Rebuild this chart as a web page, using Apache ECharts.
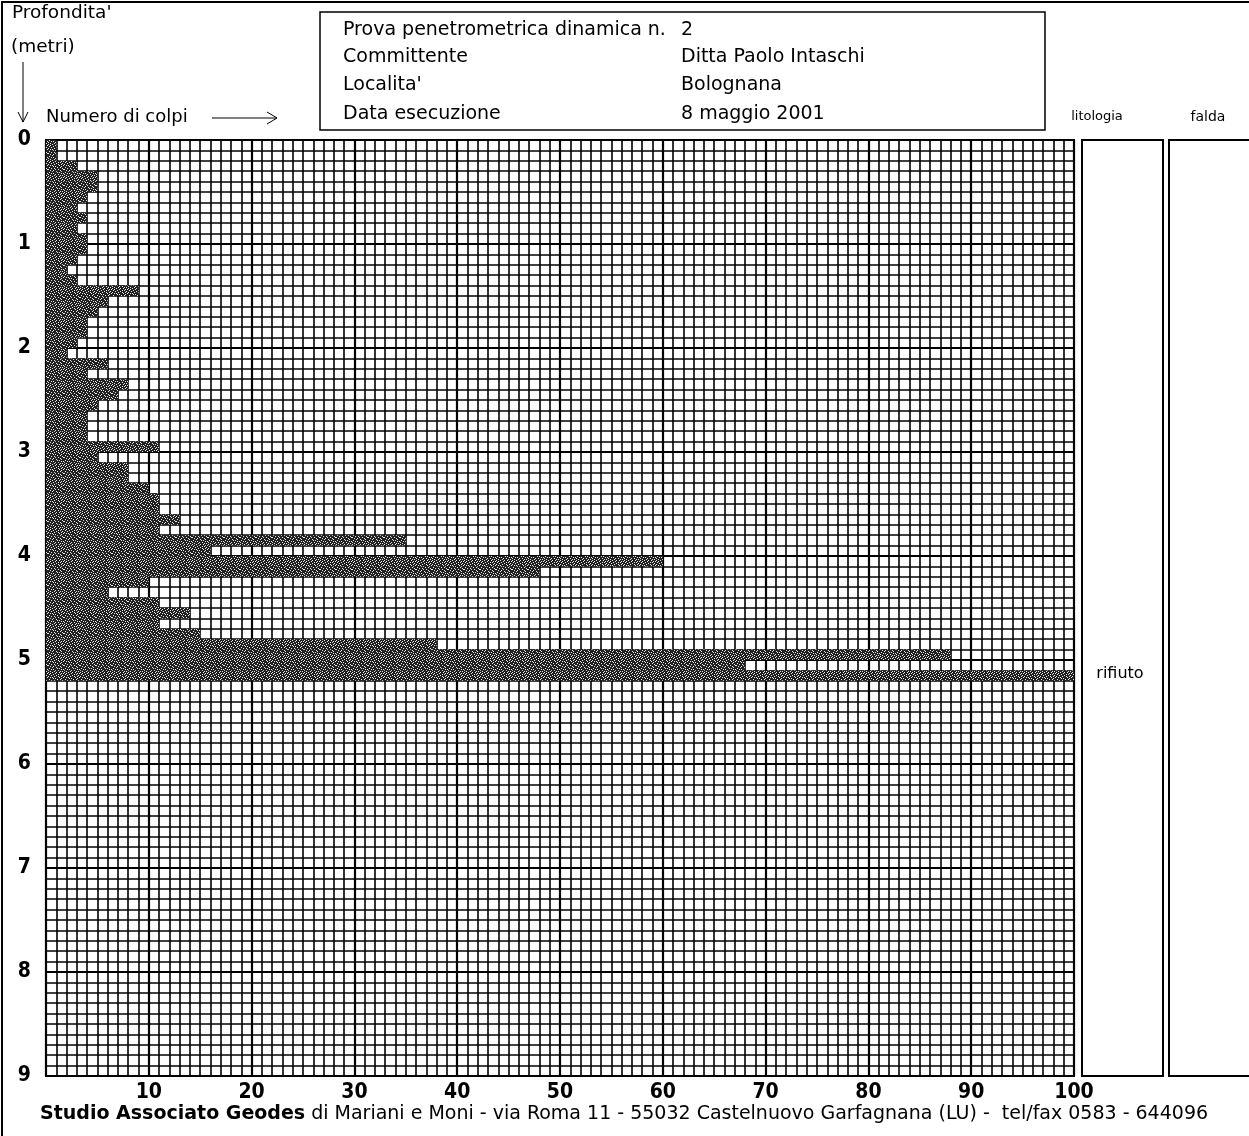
<!DOCTYPE html>
<html>
<head>
<meta charset="utf-8">
<title>Prova penetrometrica dinamica n. 2</title>
<script src="https://cdn.jsdelivr.net/npm/echarts@6/dist/echarts.min.js"></script>
<style>
  html, body { margin: 0; padding: 0; background: #fff; }
  #chart { width: 1249px; height: 1136px; }
</style>
</head>
<body>
<div id="chart"></div>
<script>
// Top depth (m) of each 10 cm penetration step
const depthTop = [
  0.0, 0.1, 0.2, 0.3, 0.4, 0.5, 0.6, 0.7, 0.8, 0.9,
  1.0, 1.1, 1.2, 1.3, 1.4, 1.5, 1.6, 1.7, 1.8, 1.9,
  2.0, 2.1, 2.2, 2.3, 2.4, 2.5, 2.6, 2.7, 2.8, 2.9,
  3.0, 3.1, 3.2, 3.3, 3.4, 3.5, 3.6, 3.7, 3.8, 3.9,
  4.0, 4.1, 4.2, 4.3, 4.4, 4.5, 4.6, 4.7, 4.8, 4.9,
  5.0, 5.1
];
// Number of blows for each step
const colpi = [
  1, 1, 3, 5, 5, 4, 3, 4, 3, 4,
  4, 3, 2, 3, 9, 6, 5, 4, 4, 3,
  2, 6, 4, 8, 7, 5, 4, 4, 4, 11,
  5, 8, 8, 10, 11, 11, 13, 11, 35, 16,
  60, 48, 10, 6, 11, 14, 11, 15, 38, 88,
  68, 100
];
const STEP = 0.1;
const xTicks = [10, 20, 30, 40, 50, 60, 70, 80, 90, 100];
const yTicks = [0, 1, 2, 3, 4, 5, 6, 7, 8, 9];

// Header fields
const headerLabels = ['Prova penetrometrica dinamica n.', 'Committente', "Localita'", 'Data esecuzione'];
const headerValues = ['2', 'Ditta Paolo Intaschi', 'Bolognana', '8 maggio 2001'];

// Stippled fill used for the blow-count bars
function makeStipple() {
  const mask = [
    '1000100010010000',
    '0010000100000101',
    '0100010000101000',
    '0001000010000010',
    '1000001000100100',
    '0010100000010001',
    '0000010100000100',
    '0100000001001000',
    '0001001000000010',
    '1000000100100001',
    '0010010000001000',
    '0000100010000100',
    '0100000001010000',
    '0001010000000101',
    '1000000100100000',
    '0010001000001010'
  ];
  const c = document.createElement('canvas');
  c.width = 16; c.height = 16;
  const g = c.getContext('2d');
  g.fillStyle = '#222';
  g.fillRect(0, 0, 16, 16);
  g.fillStyle = '#e0e0e0';
  for (let r = 0; r < 16; r++) {
    for (let k = 0; k < 16; k++) {
      if (mask[r][k] === '1') g.fillRect(k, r, 1, 1);
    }
  }
  return c;
}
const stipple = { image: makeStipple(), repeat: 'repeat' };

const narrow = "'Liberation Sans Narrow', 'DejaVu Sans Condensed', sans-serif";
const plain = "'DejaVu Sans', sans-serif";

const G = { left: 46, top: 140, width: 1028, height: 936 };

const chart = echarts.init(document.getElementById('chart'), null, { renderer: 'canvas' });

const graphic = [];
// outer frame
graphic.push({ type: 'rect', shape: { x: 2, y: 2, width: 1260, height: 1140 },
  style: { fill: null, stroke: '#000', lineWidth: 2 }, z: 10 });
// header box
graphic.push({ type: 'rect', shape: { x: 320, y: 12, width: 725, height: 118 },
  style: { fill: null, stroke: '#000', lineWidth: 1.5 }, z: 10 });
const rowY = [30, 57, 85, 114];
headerLabels.forEach((t, i) => {
  graphic.push({ type: 'text', x: 343, y: rowY[i], z: 10,
    style: { text: t, font: '19px ' + plain, fill: '#000', textVerticalAlign: 'middle' } });
  graphic.push({ type: 'text', x: 681, y: rowY[i], z: 10,
    style: { text: headerValues[i], font: '19px ' + plain, fill: '#000', textVerticalAlign: 'middle' } });
});
// axis titles
graphic.push({ type: 'text', x: 12, y: 13, z: 10,
  style: { text: "Profondita'", font: '18.5px ' + plain, fill: '#000', textVerticalAlign: 'middle' } });
graphic.push({ type: 'text', x: 11, y: 47, z: 10,
  style: { text: '(metri)', font: '18.5px ' + plain, fill: '#000', textVerticalAlign: 'middle' } });
graphic.push({ type: 'text', x: 46, y: 117, z: 10,
  style: { text: 'Numero di colpi', font: '18px ' + plain, fill: '#000', textVerticalAlign: 'middle' } });
// down arrow
graphic.push({ type: 'line', shape: { x1: 23, y1: 62, x2: 23, y2: 122 }, style: { stroke: '#000', lineWidth: 1 }, z: 10 });
graphic.push({ type: 'polyline', shape: { points: [[18, 112], [23, 122], [28, 112]] }, style: { stroke: '#000', lineWidth: 1, fill: null }, z: 10 });
// right arrow
graphic.push({ type: 'line', shape: { x1: 212, y1: 118, x2: 277, y2: 118 }, style: { stroke: '#000', lineWidth: 1 }, z: 10 });
graphic.push({ type: 'polyline', shape: { points: [[267, 112], [277, 118], [267, 124]] }, style: { stroke: '#000', lineWidth: 1, fill: null }, z: 10 });
// side columns
graphic.push({ type: 'rect', shape: { x: 1082, y: 140, width: 81, height: 936 },
  style: { fill: null, stroke: '#000', lineWidth: 2 }, z: 10 });
graphic.push({ type: 'rect', shape: { x: 1169, y: 140, width: 100, height: 936 },
  style: { fill: null, stroke: '#000', lineWidth: 2 }, z: 10 });
graphic.push({ type: 'text', x: 1097, y: 117, z: 10,
  style: { text: 'litologia', font: '13px ' + plain, fill: '#000', textAlign: 'center', textVerticalAlign: 'middle' } });
graphic.push({ type: 'text', x: 1208, y: 117, z: 10,
  style: { text: 'falda', font: '14px ' + plain, fill: '#000', textAlign: 'center', textVerticalAlign: 'middle' } });
graphic.push({ type: 'text', x: 1120, y: 674, z: 10,
  style: { text: 'rifiuto', font: '16px ' + plain, fill: '#000', textAlign: 'center', textVerticalAlign: 'middle' } });
// footer
graphic.push({ type: 'text', x: 40, y: 1114, z: 10,
  style: {
    text: '{b|Studio Associato Geodes} di Mariani e Moni - via Roma 11 - 55032 Castelnuovo Garfagnana (LU) -  tel/fax 0583 - 644096',
    font: '19px ' + plain, fill: '#000', textVerticalAlign: 'middle',
    rich: { b: { font: 'bold 19px ' + plain, fill: '#000' } }
  } });

chart.setOption({
  animation: false,
  backgroundColor: '#fff',
  grid: { left: G.left, top: G.top, width: G.width, height: G.height,
    show: true, borderColor: '#000', borderWidth: 2, backgroundColor: '#fff' },
  xAxis: {
    type: 'value', min: 0, max: 100, interval: 10,
    axisLine: { show: false }, axisTick: { show: false },
    axisLabel: {
      margin: 6, color: '#000', fontFamily: narrow, fontWeight: 'bold', fontSize: 21,
      formatter: v => (xTicks.indexOf(v) >= 0 ? String(v) : '')
    },
    splitLine: { show: true, lineStyle: { color: '#000', width: 2.2 } },
    minorTick: { show: false, splitNumber: 10 },
    minorSplitLine: { show: true, lineStyle: { color: '#000', width: 1.6 } }
  },
  yAxis: {
    type: 'value', min: 0, max: 9, interval: 1, inverse: true,
    axisLine: { show: false }, axisTick: { show: false },
    axisLabel: {
      margin: 15, color: '#000', fontFamily: narrow, fontWeight: 'bold', fontSize: 21,
      formatter: v => (yTicks.indexOf(v) >= 0 ? String(v) : '')
    },
    splitLine: { show: true, lineStyle: { color: '#000', width: 2.2 } },
    minorTick: { show: false, splitNumber: 10 },
    minorSplitLine: { show: true, lineStyle: { color: '#000', width: 1.6 } }
  },
  series: [{
    type: 'custom',
    coordinateSystem: 'cartesian2d',
    clip: true,
    encode: { x: 0, y: 1 },
    data: colpi.map((v, i) => [v, depthTop[i]]),
    renderItem: (params, api) => {
      const v = api.value(0);
      const d = api.value(1);
      const a = api.coord([0, d]);
      const b = api.coord([v, d + STEP]);
      return {
        type: 'rect',
        shape: { x: a[0], y: a[1], width: b[0] - a[0], height: b[1] - a[1] },
        style: { fill: stipple }
      };
    }
  }],
  graphic: graphic
});
</script>
</body>
</html>
